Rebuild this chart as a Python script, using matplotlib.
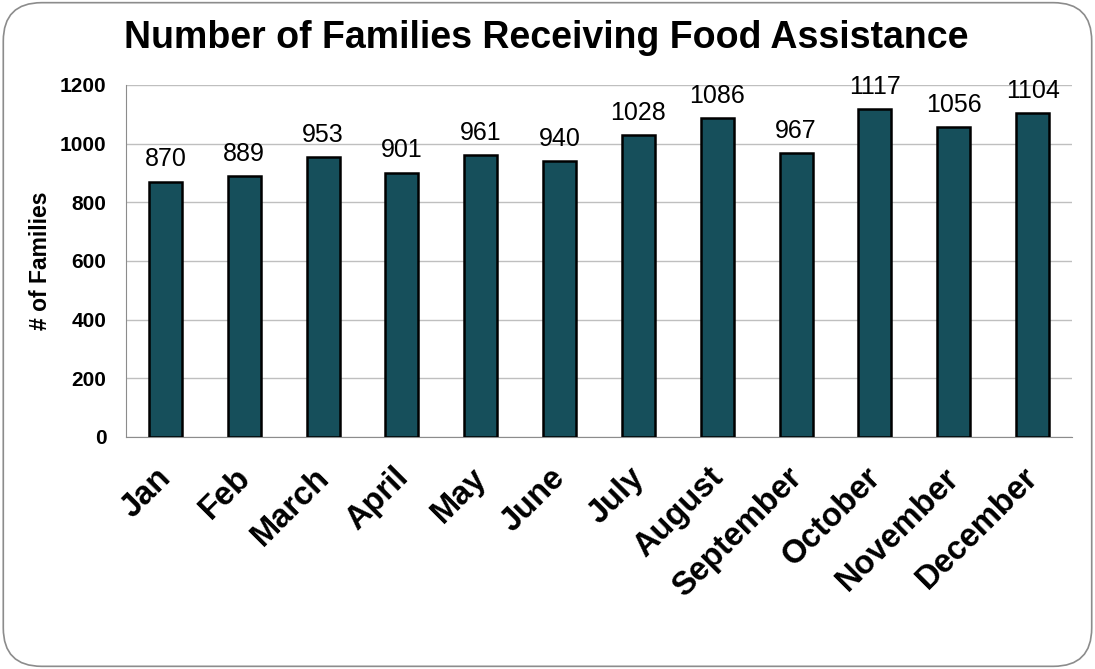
import matplotlib.pyplot as plt
from matplotlib.patches import FancyBboxPatch
from matplotlib.transforms import ScaledTranslation

months = ['Jan', 'Feb', 'March', 'April', 'May', 'June', 'July',
          'August', 'September', 'October', 'November', 'December']
families = [870, 889, 953, 901, 961, 940, 1028, 1086, 967, 1117, 1056, 1104]
yticks = [0, 200, 400, 600, 800, 1000, 1200]

plt.rcParams['font.family'] = ['Liberation Sans', 'DejaVu Sans']

fig = plt.figure(figsize=(10.95, 6.69), dpi=100)
ax = fig.add_axes([126 / 1095, 1 - 437 / 669, (1072 - 126) / 1095, (437 - 85) / 669])

# rounded frame around the whole chart
frame = FancyBboxPatch((0.003, 0.004), 0.994, 0.992, transform=fig.transFigure,
                       boxstyle='round,pad=0,rounding_size=0.035',
                       facecolor='none', edgecolor='#8c8c8c', linewidth=1.2,
                       mutation_aspect=1095 / 669)
fig.patches.append(frame)

x = range(len(months))
bars = ax.bar(x, families, width=0.42, color='#164f5b', edgecolor='black',
              linewidth=1.8, zorder=3)
for i, v in enumerate(families):
    ax.text(i, v + 36, str(v), ha='center', va='bottom', fontsize=18, zorder=4)

ax.set_xlim(-0.5, len(months) - 0.5)
ax.set_ylim(0, 1200)
ax.set_yticks(yticks)
ax.set_yticklabels([str(t) for t in yticks], fontsize=15, fontweight='bold')
ax.set_xticks(list(x))
ax.set_xticklabels(months, rotation=45, ha='right', rotation_mode='anchor',
                   fontsize=23.5, fontweight='bold')
ax.tick_params(axis='both', length=0)
ax.tick_params(axis='y', pad=14)
ax.tick_params(axis='x', pad=18)
for lab in ax.get_xticklabels():
    lab.set_transform(lab.get_transform() + ScaledTranslation(-7 / 72, 0, fig.dpi_scale_trans))

ax.grid(axis='y', color='#bfbfbf', linewidth=1, zorder=0)
for s in ['top', 'right']:
    ax.spines[s].set_visible(False)
ax.spines['left'].set_color('#8c8c8c')
ax.spines['bottom'].set_color('#8c8c8c')

ax.set_ylabel('# of Families', fontsize=16.5, fontweight='bold', labelpad=6)
fig.text(546 / 1095, 1 - 38 / 669, 'Number of Families Receiving Food Assistance',
         ha='center', va='center', fontsize=27, fontweight='bold')

fig.savefig('out.png', dpi=100)
